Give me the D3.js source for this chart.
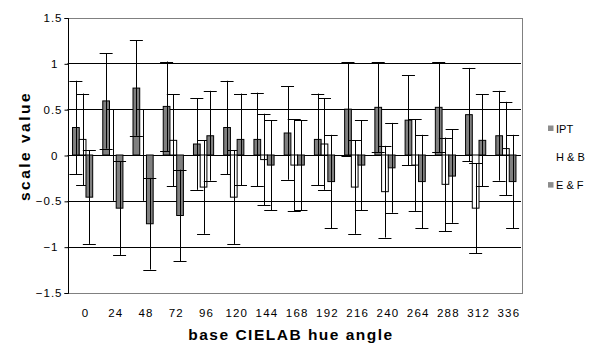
<!DOCTYPE html>
<html>
<head>
<meta charset="utf-8">
<script src="https://cdn.jsdelivr.net/npm/d3@7"></script>
<style>
    body { margin: 0; background: #fff; }
    svg { display: block; font-family: "Liberation Sans", Arial, sans-serif; }
</style>
</head>
<body>
<svg id="chart" width="595" height="360"></svg>
<script>
// hue angles (categories)
const hues = [0, 24, 48, 72, 96, 120, 144, 168, 192, 216, 240, 264, 288, 312, 336];

// scale values per series
const ipt = [0.30, 0.59, 0.73, 0.53, 0.12, 0.30, 0.17, 0.24, 0.17, 0.50, 0.52, 0.38, 0.52, 0.44, 0.21];
const hb  = [0.17, 0.00, 0.00, 0.16, -0.35, -0.46, -0.05, -0.11, 0.12, -0.35, -0.40, -0.11, -0.32, -0.58, 0.07];
const ef  = [-0.46, -0.58, -0.75, -0.66, 0.21, 0.17, -0.11, -0.11, -0.29, -0.11, -0.14, -0.29, -0.23, 0.16, -0.29];

// error bar half-lengths
const iptErr = [0.51, 0.52, 0.52, 0.49, 0.50, 0.51, 0.51, 0.51, 0.50, 0.51, 0.49, 0.49, 0.49, 0.51, 0.49];
const hbErr  = [0.50, 0.50, 0.50, 0.50, 0.51, 0.51, 0.50, 0.50, 0.50, 0.51, 0.50, 0.50, 0.51, 0.49, 0.51];
const efErr  = [0.51, 0.51, 0.50, 0.50, 0.49, 0.50, 0.49, 0.49, 0.51, 0.49, 0.49, 0.51, 0.51, 0.50, 0.51];

const seriesNames = ['IPT', 'H & B', 'E & F'];
const yTicks = [-1.5, -1, -0.5, 0, 0.5, 1, 1.5];
const gridValues = [-1, -0.5, 0, 0.5, 1];

const series = [
    { name: seriesNames[0], values: ipt, errs: iptErr, fill: '#808080' },
    { name: seriesNames[1], values: hb, errs: hbErr, fill: '#ffffff' },
    { name: seriesNames[2], values: ef, errs: efErr, fill: '#808080' }
];

const svg = d3.select('#chart');
const plot = { left: 67.5, right: 521, top: 17.5, bottom: 292.5 };

const x = d3.scaleBand()
    .domain(hues)
    .range([plot.left, plot.right]);

const barW = x.bandwidth() / 4.5;
const xInner = d3.scaleBand()
    .domain(seriesNames)
    .range([x.bandwidth() / 2 - 1.5 * barW, x.bandwidth() / 2 + 1.5 * barW]);

const y = d3.scaleLinear()
    .domain([-1.5, 1.5])
    .range([plot.bottom, plot.top]);

const crisp = v => Math.round(v) + 0.5;

// plot border
svg.append('rect')
    .attr('x', crisp(plot.left))
    .attr('y', crisp(plot.top))
    .attr('width', Math.round(plot.right - plot.left))
    .attr('height', Math.round(plot.bottom - plot.top))
    .attr('fill', 'none')
    .attr('stroke', '#808080');

// gridlines
svg.append('g')
    .selectAll('line')
    .data(gridValues)
    .enter().append('line')
    .attr('x1', plot.left)
    .attr('x2', plot.right)
    .attr('y1', d => crisp(y(d)))
    .attr('y2', d => crisp(y(d)))
    .attr('stroke', '#000');

// y axis
const yAxis = svg.append('g')
    .attr('transform', `translate(${crisp(plot.left)},0)`)
    .call(d3.axisLeft(y).tickValues(yTicks).tickSize(4).tickFormat(d => d3.format('')(d)));
yAxis.select('.domain').attr('stroke', '#000').attr('d', `M-4,${crisp(y(1.5))}H0V${crisp(y(-1.5))}H-4`);
yAxis.selectAll('.tick line').attr('stroke', '#000').attr('y1', 0.5).attr('y2', 0.5);
yAxis.selectAll('.tick text')
    .attr('x', d => Number.isInteger(d) ? -10 : -6)
    .attr('dy', '0.35em')
    .style('font-size', '11.5px')
    .style('letter-spacing', '1px')
    .style('font-family', '"Liberation Sans", Arial, sans-serif')
    .attr('fill', '#000');
yAxis.attr('font-size', null).attr('font-family', null);

// x tick labels
svg.append('g')
    .selectAll('text')
    .data(hues)
    .enter().append('text')
    .attr('x', d => x(d) + x.bandwidth() / 2 + 3)
    .attr('y', 316.5)
    .attr('text-anchor', 'middle')
    .style('font-size', '11.5px')
    .style('letter-spacing', '1.2px')
    .text(d => d);

// bars and error bars
series.forEach(s => {
    const g = svg.append('g');
    const cx = i => x(hues[i]) + xInner(s.name) + barW / 2;

    g.selectAll('rect')
        .data(s.values)
        .enter().append('rect')
        .attr('x', (d, i) => x(hues[i]) + xInner(s.name))
        .attr('y', d => y(Math.max(0, d)))
        .attr('width', barW)
        .attr('height', d => Math.abs(y(d) - y(0)))
        .attr('fill', s.fill)
        .attr('stroke', '#000')
        .attr('stroke-width', 1);

    const eb = g.selectAll('g.err')
        .data(s.values)
        .enter().append('g')
        .attr('class', 'err')
        .attr('stroke', '#000');

    eb.append('line')
        .attr('x1', (d, i) => crisp(cx(i)))
        .attr('x2', (d, i) => crisp(cx(i)))
        .attr('y1', (d, i) => y(d + s.errs[i]))
        .attr('y2', (d, i) => y(d - s.errs[i]));

    [1, -1].forEach(sign => {
        eb.append('line')
            .attr('x1', (d, i) => cx(i) - 6.5)
            .attr('x2', (d, i) => cx(i) + 6.5)
            .attr('y1', (d, i) => crisp(y(d + sign * s.errs[i])))
            .attr('y2', (d, i) => crisp(y(d + sign * s.errs[i])));
    });
});

// axis titles
svg.append('text')
    .attr('x', 291)
    .attr('y', 339.5)
    .attr('text-anchor', 'middle')
    .style('font-size', '15.5px')
    .style('font-weight', 'bold')
    .style('letter-spacing', '1.5px')
    .text('base CIELAB hue angle');

svg.append('text')
    .attr('transform', 'translate(30,146) rotate(-90)')
    .attr('text-anchor', 'middle')
    .style('font-size', '15.5px')
    .style('font-weight', 'bold')
    .style('letter-spacing', '2.5px')
    .text('scale value');

// legend
const legend = svg.append('g')
    .selectAll('g')
    .data(series)
    .enter().append('g')
    .attr('transform', (d, i) => `translate(548,${128.5 + i * 28.3})`);

legend.append('rect')
    .attr('x', 0)
    .attr('y', -3)
    .attr('width', 5.5)
    .attr('height', 5.5)
    .attr('fill', d => d.fill === '#ffffff' ? '#fff' : '#8c8c8c');

legend.append('text')
    .attr('x', 8)
    .attr('dy', '0.38em')
    .style('font-size', '11px')
    .text(d => d.name);
</script>
</body>
</html>
